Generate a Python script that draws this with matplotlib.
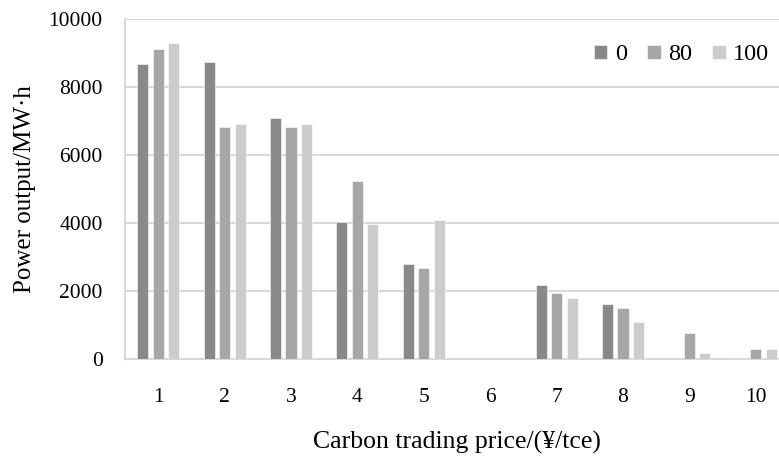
import numpy as np
import matplotlib.pyplot as plt

plt.rcParams['font.family'] = ['Liberation Serif', 'DejaVu Serif']

# data
categories = ['1', '2', '3', '4', '5', '6', '7', '8', '9', '10']
series_names = ['0', '80', '100']
price_0 = [8690, 8730, 7100, 4040, 2800, 0, 2170, 1610, 0, 40]
price_80 = [9130, 6810, 6810, 5230, 2690, 0, 1950, 1490, 770, 300]
price_100 = [9300, 6920, 6920, 3970, 4090, 0, 1780, 1100, 190, 300]
colors = ['#898989', '#a6a6a6', '#cccccc']

fig = plt.figure(figsize=(7.79, 4.57), dpi=100)
ax = fig.add_axes([125 / 779, (457 - 359) / 457, 664 / 779, 340 / 457])

x = np.arange(1, len(categories) + 1)
step = 0.233
width = 0.166
for i, (vals, name, c) in enumerate(zip([price_0, price_80, price_100], series_names, colors)):
    ax.bar(x + (i - 1) * step, vals, width, color=c, edgecolor='white', linewidth=0.4,
           label=name, zorder=3)

ax.set_xlim(0.5, 10.5)
ax.set_ylim(0, 10000)
ax.set_yticks(np.arange(0, 10001, 2000))
ax.set_xticks(x)
ax.set_xticklabels(categories)
ax.yaxis.grid(True, color='#d9d9d9', linewidth=1.5, zorder=0)
ax.set_axisbelow(True)
for s in ['top', 'right']:
    ax.spines[s].set_visible(False)
ax.spines['left'].set_color('#d9d9d9')
ax.spines['bottom'].set_color('#d9d9d9')
ax.spines['left'].set_linewidth(1.5)
ax.spines['bottom'].set_linewidth(1.5)
ax.tick_params(axis='both', length=0, labelsize=15.5)
ax.tick_params(axis='y', pad=16)
ax.tick_params(axis='x', pad=21)

ax.set_xlabel('Carbon trading price/(¥/tce)', fontsize=18.5, labelpad=17)
ax.set_ylabel('Power output/MW·h', fontsize=18, labelpad=9)

ax.legend(loc='center right', bbox_to_anchor=(769 / 779, 1 - 55 / 457),
          bbox_transform=fig.transFigure, ncol=3, frameon=False, fontsize=17.5,
          borderpad=0, borderaxespad=0,
          handlelength=0.54, handleheight=0.54, handletextpad=0.3, columnspacing=0.85)

fig.savefig('out.png', dpi=100)
